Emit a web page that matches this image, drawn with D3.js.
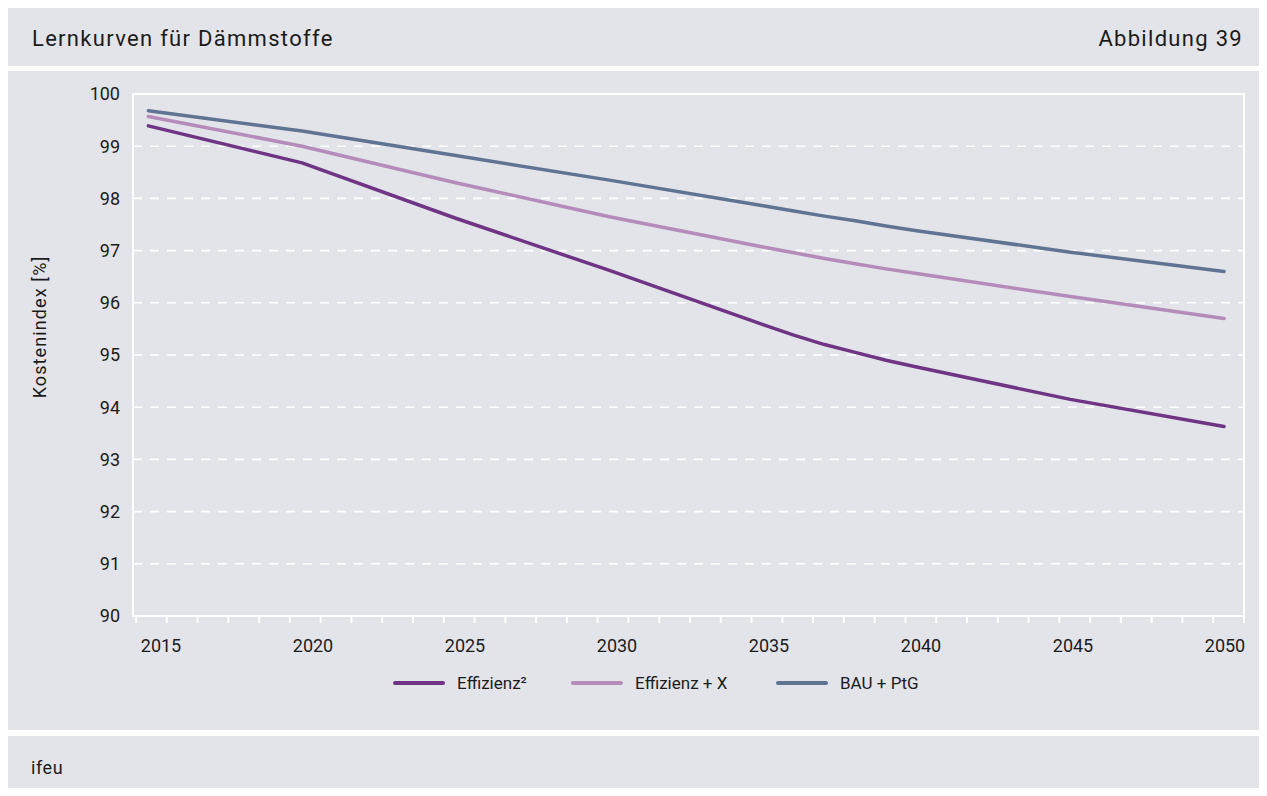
<!DOCTYPE html>
<html><head><meta charset="utf-8">
<script src="https://cdn.jsdelivr.net/npm/d3@7"></script>
<style>
body{margin:0;background:#ffffff;}
text{font-family:Roboto,"Noto Sans",sans-serif;fill:#1b1b1b;}
</style>
</head><body>
<svg id="chart" width="1267" height="796"></svg>
<script>
// ---- data ----
const years = [2015, 2020, 2025, 2030, 2035, 2036, 2037, 2038, 2039, 2040, 2045, 2050];
const effizienz2 = [99.39, 98.68, 97.62, 96.62, 95.58, 95.38, 95.20, 95.05, 94.90, 94.77, 94.15, 93.63];
const effizienzX = [99.57, 99.00, 98.30, 97.65, 97.07, 96.96, 96.85, 96.75, 96.65, 96.56, 96.12, 95.70];
const bauPtG     = [99.68, 99.29, 98.82, 98.35, 97.86, 97.76, 97.66, 97.57, 97.47, 97.38, 96.97, 96.60];
const seriesNames = ["Effizienz²", "Effizienz + X", "BAU + PtG"];
const seriesColors = ["#6f3484", "#b58bb9", "#5f7393"];
const yTicks = [90, 91, 92, 93, 94, 95, 96, 97, 98, 99, 100];
const xTickLabels = [2015, 2020, 2025, 2030, 2035, 2040, 2045, 2050];
const title = "Lernkurven für Dämmstoffe";
const figLabel = "Abbildung 39";
const yTitle = "Kostenindex [%]";
const source = "ifeu";

const svg = d3.select("#chart");
const bg = "#e3e4e9";

// panels
svg.append("rect").attr("x",8).attr("y",8).attr("width",1251).attr("height",58).attr("fill",bg);
svg.append("rect").attr("x",8).attr("y",71).attr("width",1251).attr("height",659).attr("fill",bg);
svg.append("rect").attr("x",8).attr("y",736).attr("width",1251).attr("height",52).attr("fill",bg);

svg.append("text").attr("x",32).attr("y",46).attr("font-size",22).attr("letter-spacing",1.3).text(title);
svg.append("text").attr("x",1243).attr("y",46).attr("font-size",22).attr("letter-spacing",1.3).attr("text-anchor","end").text(figLabel);
svg.append("text").attr("x",31).attr("y",774).attr("font-size",18).attr("letter-spacing",0.6).text(source);

// scales
const L = 133, R = 1244, T = 94, B = 616;
const x = d3.scaleLinear().domain([2014.5, 2050.65]).range([L, R]);
const xLab = d3.scaleLinear().domain([2015, 2050]).range([161, 1225]);
const y = d3.scaleLinear().domain([90, 100]).range([B, T]);

// gridlines
svg.append("g").selectAll("line").data(yTicks.filter(v => v > 90 && v < 100)).join("line")
  .attr("x1", L).attr("x2", R).attr("y1", d => y(d)).attr("y2", d => y(d))
  .attr("stroke", "#ffffff").attr("stroke-width", 1.6).attr("stroke-dasharray", "9,8");

// frame
svg.append("rect").attr("x", L).attr("y", T).attr("width", R - L).attr("height", B - T)
  .attr("fill", "none").attr("stroke", "#ffffff").attr("stroke-width", 2);

// minor x ticks
const tickPos = d3.range(37).map(i => L + 3 + i * (R - L - 3) / 36);
svg.append("g").selectAll("line").data(tickPos).join("line")
  .attr("x1", d => d).attr("x2", d => d).attr("y1", B).attr("y2", B + 7)
  .attr("stroke", "#ffffff").attr("stroke-width", 2);

// y tick labels
svg.append("g").selectAll("text").data(yTicks).join("text")
  .attr("x", 120).attr("y", d => y(d)).attr("dy", "0.35em")
  .attr("text-anchor", "end").attr("font-size", 18).text(d => d);

// x tick labels
svg.append("g").selectAll("text").data(xTickLabels).join("text")
  .attr("x", d => xLab(d)).attr("y", 652)
  .attr("text-anchor", "middle").attr("font-size", 18).text(d => d);

// y title
svg.append("text").attr("transform", "translate(46,327) rotate(-90)")
  .attr("text-anchor", "middle").attr("font-size", 18).attr("letter-spacing", 1.1).text(yTitle);

// lines
const allSeries = [effizienz2, effizienzX, bauPtG];
const line = d3.line().x((d, i) => x(years[i])).y(d => y(d));
svg.append("g").selectAll("path").data(allSeries).join("path")
  .attr("d", d => line(d)).attr("fill", "none")
  .attr("stroke", (d, i) => seriesColors[i]).attr("stroke-width", 3.5)
  .attr("stroke-linecap", "round").attr("stroke-linejoin", "round");

// legend
const legX = [395, 573, 778];
const lg = svg.append("g").selectAll("g").data(seriesNames).join("g")
  .attr("transform", (d, i) => `translate(${legX[i]},683)`);
lg.append("line").attr("x1", 0).attr("x2", 48).attr("y1", 0).attr("y2", 0)
  .attr("stroke", (d, i) => seriesColors[i]).attr("stroke-width", 4).attr("stroke-linecap","round");
lg.append("text").attr("x", 62).attr("y", 0).attr("dy", "0.35em").attr("font-size", 17).text(d => d);
</script>
</body></html>
